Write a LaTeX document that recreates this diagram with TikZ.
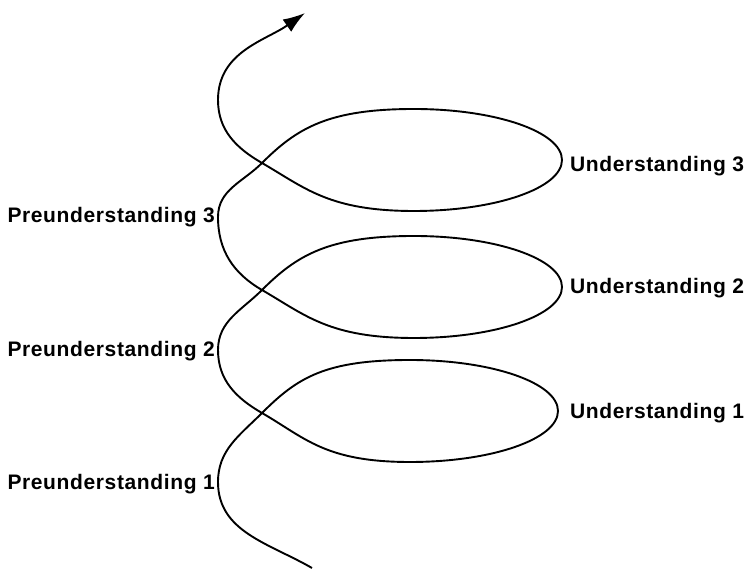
\documentclass[tikz,border=0pt]{standalone}
\usepackage{fontspec}
\setmainfont{Liberation Sans}
\usetikzlibrary{arrows.meta}

\begin{document}
\begin{tikzpicture}[
  x=1pt,y=1pt,>={Latex[length=22pt,width=15pt]},
  spiral/.style={line width=1.9pt},
  rise/.style={out=45,in=180,out distance=50,in distance=85},
  fall/.style={out=180,in=-30,out distance=85,in distance=50},
  halfloop/.style={start angle=90,end angle=-90,x radius=148,y radius=51},
  prelabel/.style={anchor=base east,inner sep=0pt},
  underlabel/.style={anchor=base west,inner sep=0pt},
  every node/.style={font=\bfseries\fontsize{21}{25}\selectfont\addfontfeature{LetterSpace=3}}
]
  \useasboundingbox (0,0) rectangle (747,570);

  \coordinate (start) at (312,2);
  \coordinate (left1) at (218,88);
  \coordinate (cross1) at (262,157);
  \coordinate (top1) at (410,210);
  \coordinate (left2) at (218,220);
  \coordinate (cross2) at (262,280);
  \coordinate (top2) at (414,334);
  \coordinate (left3) at (218,353);
  \coordinate (cross3) at (262,407);
  \coordinate (top3) at (414,461);
  \coordinate (left4) at (218,470);
  \coordinate (tip) at (305,557);

  \node[prelabel] (pre1) at (215,80) {Preunderstanding 1};
  \node[prelabel] (pre2) at (215,213) {Preunderstanding 2};
  \node[prelabel] (pre3) at (215,347) {Preunderstanding 3};
  \node[underlabel] (und1) at (570,151) {Understanding 1};
  \node[underlabel] (und2) at (570,276) {Understanding 2};
  \node[underlabel] (und3) at (570,398) {Understanding 3};

  \draw[spiral,->] (start) to[out=150,in=-90] (left1)
    to[out=90,in=225] (cross1) to[rise] (top1)
    arc[halfloop] to[fall] (cross1) to[out=150,in=-90] (left2)
    to[out=90,in=225] (cross2) to[rise] (top2)
    arc[halfloop] to[fall] (cross2) to[out=150,in=-90] (left3)
    to[out=90,in=225] (cross3) to[rise] (top3)
    arc[halfloop] to[fall] (cross3) to[out=150,in=-90] (left4)
    to[out=90,in=215] (tip);
\end{tikzpicture}
\end{document}
